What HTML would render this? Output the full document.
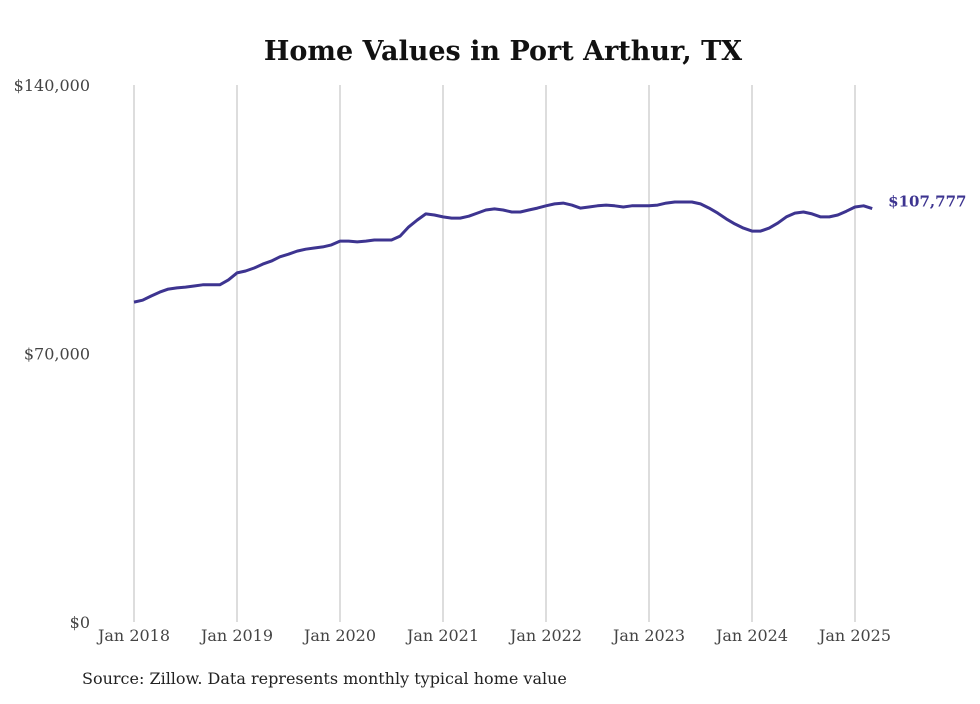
<!DOCTYPE html>
<html><head><meta charset="utf-8"><style>
body{margin:0;background:#fff;}
svg text{font-family:"DejaVu Serif","Liberation Serif",serif;}
</style></head><body>
<svg width="980" height="699" xmlns="http://www.w3.org/2000/svg">
<text x="503" y="60" text-anchor="middle" font-size="27" font-weight="bold" fill="#111">Home Values in Port Arthur, TX</text>
<g id="grid"></g>
<g id="yaxis"></g>
<g id="xaxis"></g>
<path id="line" fill="none" stroke="#3d3490" stroke-width="3" stroke-linejoin="round"/>
<text id="endlabel" font-size="15" font-weight="bold" fill="#3d3490"></text>
<text x="82" y="684" font-size="16" fill="#222">Source: Zillow. Data represents monthly typical home value</text>
</svg>
<script>
const yTicks=[0,70000,140000];
const yTickLabels=["$0","$70,000","$140,000"];
const xYears=[2018,2019,2020,2021,2022,2023,2024,2025];
const xTickLabels=["Jan 2018","Jan 2019","Jan 2020","Jan 2021","Jan 2022","Jan 2023","Jan 2024","Jan 2025"];
const startYear=2018;
const values=[
83.4,83.9,85.0,86.0,86.8,87.1,87.3,87.6,87.9,87.9,87.9,89.2,
91.0,91.5,92.3,93.3,94.1,95.2,95.9,96.7,97.2,97.5,97.8,98.3,
99.3,99.3,99.1,99.3,99.6,99.6,99.6,100.6,103.0,104.8,106.4,106.1,
105.6,105.3,105.3,105.8,106.6,107.4,107.7,107.4,106.9,106.9,107.4,107.9,
108.5,109.0,109.2,108.7,107.9,108.2,108.5,108.7,108.5,108.2,108.5,108.5,
108.5,108.7,109.2,109.5,109.5,109.5,109.0,107.9,106.6,105.1,103.8,102.7,
101.9,101.9,102.7,104.0,105.6,106.6,106.9,106.4,105.6,105.6,106.1,107.1,
108.2,108.5,107.777
].map(v=>v*1000);
const NS="http://www.w3.org/2000/svg";
const y=v=>622-v/140000*537;
const x=t=>134+(t-startYear)*103;
const grid=document.getElementById('grid'),ya=document.getElementById('yaxis'),xa=document.getElementById('xaxis');
yTicks.forEach((t,i)=>{
 const tx=document.createElementNS(NS,'text');
 
 
 tx.setAttribute('x',90);tx.setAttribute('y',y(t)+6);tx.setAttribute('text-anchor','end');
 tx.setAttribute('font-size','16');tx.setAttribute('fill','#444');
 tx.textContent=yTickLabels[i];ya.appendChild(tx);
});
xYears.forEach((yr,i)=>{
 const l=document.createElementNS(NS,'line');
 
 
 l.setAttribute('x1',x(yr));l.setAttribute('x2',x(yr));l.setAttribute('y1',85);l.setAttribute('y2',622);
 l.setAttribute('stroke','#bbb');l.setAttribute('stroke-width','1');grid.appendChild(l);
 const tx=document.createElementNS(NS,'text');
 
 
 tx.setAttribute('x',x(yr));tx.setAttribute('y',641);tx.setAttribute('text-anchor','middle');
 tx.setAttribute('font-size','16');tx.setAttribute('fill','#444');
 tx.textContent=xTickLabels[i];xa.appendChild(tx);
});
let d='';
values.forEach((v,i)=>{d+=(i?'L':'M')+x(startYear+i/12).toFixed(1)+','+y(v).toFixed(1);});
document.getElementById('line').setAttribute('d',d);
const last=values[values.length-1];
const el=document.getElementById('endlabel');
el.setAttribute('x',x(startYear+(values.length-1)/12)+16);
el.setAttribute('y',y(last)-2);
el.textContent='$'+Math.round(last).toLocaleString('en-US');
</script>
</body></html>
